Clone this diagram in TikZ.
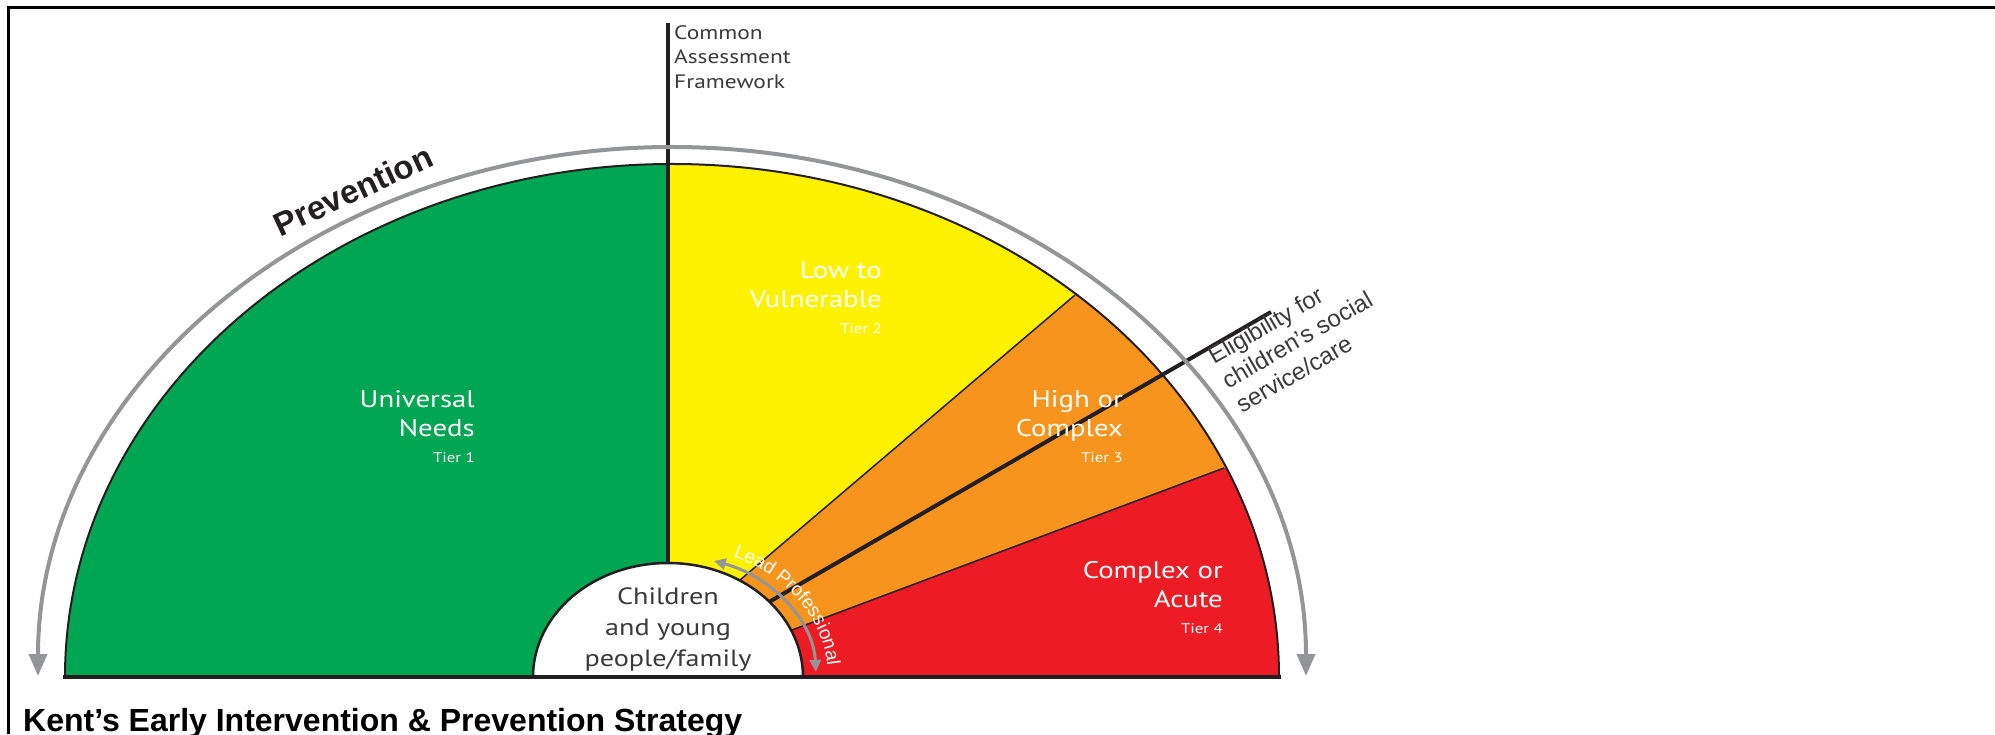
\documentclass[tikz,border=0pt]{standalone}
\usepackage{fontspec}
\setmainfont{Liberation Sans}
\newfontfamily\myr[FakeStretch=1.2]{PT Sans}
\usetikzlibrary{arrows.meta,decorations.text}

\definecolor{tgreen}{RGB}{0,166,81}
\definecolor{tyellow}{RGB}{255,242,0}
\definecolor{torange}{RGB}{247,148,29}
\definecolor{tred}{RGB}{237,28,36}
\definecolor{arcgray}{RGB}{147,149,152}
\definecolor{ink}{RGB}{35,31,32}
\definecolor{txt}{RGB}{58,58,58}

\begin{document}
\begin{tikzpicture}[x=1pt,y=1pt,
  tiername/.style={anchor=base east, text=white, inner sep=0,
    font=\myr\fontsize{24}{24}\selectfont},
  tiernum/.style={anchor=base east, text=white, inner sep=0,
    font=\myr\fontsize{14}{14}\selectfont},
  caflabel/.style={anchor=base west, text=txt, inner sep=0,
    font=\myr\fontsize{19.5}{19.5}\selectfont},
  centrelabel/.style={anchor=base, text=txt, inner sep=0,
    font=\myr\fontsize{23.5}{23.5}\selectfont},
  eliglabel/.style={anchor=base west, text=txt, inner sep=0, rotate=30,
    align=left, font=\fontsize{24}{28}\selectfont},
  divider/.style={draw=ink, line width=1.5pt},
  heavyline/.style={draw=ink, line width=4.5pt},
  grayarrow/.style={draw=arcgray, line width=4pt,
    {Triangle[width=18pt,length=22pt]}-{Triangle[width=18pt,length=22pt]}},
  leadarrow/.style={draw=arcgray, line width=3pt,
    {Triangle[width=11pt,length=12pt]}-{Triangle[width=11pt,length=12pt]}}
]
\useasboundingbox (0,0) rectangle (1995,734);

% frame
\draw[line width=3pt] (8,0) -- (8,726) -- (1995,726);

% coloured sectors of the half ellipse
\begin{scope}
  \clip (65,57) arc[start angle=180, end angle=0, x radius=607, y radius=513] -- cycle;
  \fill[tred] (0,0) rectangle (1500,700);
  \fill[tgreen] (0,0) rectangle (668,700);
  \fill[tyellow] (668,92.7) -- (668,700) -- (1382,700) -- cycle;
  \fill[torange] (594,29.7) -- (1382,700) -- (1500,700) -- (1500,369.5) -- cycle;
\end{scope}

% sector borders
\draw[divider] (740,154) -- (1075,439);
\draw[divider] (792,104) -- (1224,266);
\draw[draw=ink, line width=2pt] (65,57) arc[start angle=180, end angle=0, x radius=607, y radius=513];

% eligibility threshold
\draw[heavyline, line width=4pt] (769,132) -- (1271,422);

% centre: children and young people
\filldraw[fill=white, draw=ink, line width=2.5pt] (533,57) arc[start angle=180, end angle=0, x radius=135, y radius=114] -- cycle;

% base line
\draw[draw=ink, line width=4pt] (63,57) -- (1281,57);

% common assessment framework threshold
\draw[heavyline] (668,711) -- (668,171);

% prevention arc
\draw[grayarrow] (38,58) arc[start angle=180, end angle=0, x radius=634, y radius=529];

% lead professional arc
\draw[leadarrow] (815.9,62.1) arc[start angle=2.4, end angle=72, x radius=148, y radius=122];
\path[decorate, decoration={text along path, text align=left,
    text={|\color{white}\fontsize{19}{19}\selectfont|Lead Professional}}]
  (733.1,177.6) arc[start angle=66, end angle=-12, x radius=160, y radius=132];

% tier labels
\node[tiername] (t1a) at (475,326) {Universal};
\node[tiername] (t1b) at (475,297) {Needs};
\node[tiernum]  (t1c) at (475,271) {Tier 1};

\node[tiername] (t2a) at (882,455) {Low to};
\node[tiername] (t2b) at (882,426) {Vulnerable};
\node[tiernum]  (t2c) at (882,400) {Tier 2};

\node[tiername] (t3a) at (1123,326) {High or};
\node[tiername] (t3b) at (1123,297) {Complex};
\node[tiernum]  (t3c) at (1123,271) {Tier 3};

\node[tiername] (t4a) at (1223,155) {Complex or};
\node[tiername] (t4b) at (1223,126) {Acute};
\node[tiernum]  (t4c) at (1223,100) {Tier 4};

% centre label
\node[centrelabel] (c1) at (668,129) {Children};
\node[centrelabel] (c2) at (668,99) {and young};
\node[centrelabel] (c3) at (668,67) {people/family};

% CAF label
\node[caflabel] (caf1) at (674,694) {Common};
\node[caflabel] (caf2) at (674,670) {Assessment};
\node[caflabel] (caf3) at (674,645) {Framework};

% eligibility label (anchored on the baseline of its last line)
\node[eliglabel] (elig) at (1242,320.5) {Eligibility for\\children’s social\\service/care};

% prevention label
\node[anchor=base, rotate=25, text=ink, inner sep=0,
      font=\bfseries\fontsize{33}{33}\selectfont] (prev) at (358,533) {Prevention};

% title
\node[anchor=base west, inner sep=0, font=\bfseries\fontsize{32}{32}\selectfont]
  (title) at (23,3) {Kent’s Early Intervention \& Prevention Strategy};
\end{tikzpicture}
\end{document}
